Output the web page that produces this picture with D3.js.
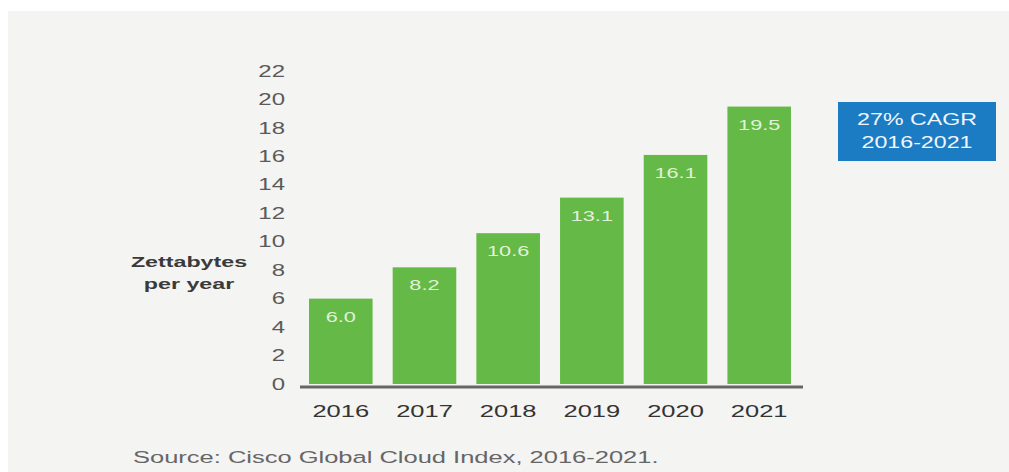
<!DOCTYPE html>
<html>
<head>
<meta charset="utf-8">
<script src="https://cdn.jsdelivr.net/npm/d3@7"></script>
<style>
  body { margin: 0; background: #fff; }
  svg { display: block; }
</style>
</head>
<body>
<div id="svganchor"></div>
<script>
let width = 1009;
let height = 472;

// chart data
let years = ["2016", "2017", "2018", "2019", "2020", "2021"];
let zettabytes = [6.0, 8.2, 10.6, 13.1, 16.1, 19.5];
let yTicks = [0, 2, 4, 6, 8, 10, 12, 14, 16, 18, 20, 22];
let axisLabel = ["Zettabytes", "per year"];
let badgeLines = ["27% CAGR", "2016-2021"];
let sourceNote = "Source: Cisco Global Cloud Index, 2016-2021.";

// the original type is set wide, so every label gets stretched sideways
let stretch = 1.5;
let font = "'Liberation Sans', Arial, sans-serif";

let svg = d3.select("#svganchor").append("svg").attr("width", width).attr("height", height);

// put a text at (x, y) and widen it around its anchor
function wideText(parent, x, y, sx) {
  return parent.append("text")
    .attr("transform", "translate(" + x + "," + y + ") scale(" + (sx || stretch) + ",1)")
    .attr("font-family", font);
}

// light gray panel
svg.append("rect")
  .attr("x", 8).attr("y", 11)
  .attr("width", width - 8).attr("height", height - 11)
  .attr("fill", "#f4f4f2");

let xScale = d3.scaleBand()
  .domain(years)
  .range([309, 791])
  .paddingInner(0.24)
  .paddingOuter(0);

let yScale = d3.scaleLinear().domain([0, 22]).range([384, 71]);

// y tick labels (no axis line)
let yAxis = d3.axisLeft(yScale).tickValues(yTicks).tickSize(0).tickPadding(0);
let gy = svg.append("g")
  .attr("transform", "translate(285,0)")
  .call(yAxis);
gy.select(".domain").remove();
gy.selectAll("text")
  .attr("transform", "scale(" + stretch + ",1)")
  .attr("font-family", font)
  .attr("font-size", 16)
  .attr("fill", "#5a5a5a");

// bars
svg.selectAll(".bar")
  .data(zettabytes)
  .enter()
  .append("rect")
  .attr("class", "bar")
  .attr("x", function (d, i) { return xScale(years[i]); })
  .attr("y", function (d) { return yScale(d); })
  .attr("width", xScale.bandwidth())
  .attr("height", function (d) { return yScale(0) - yScale(d); })
  .attr("fill", "#64b947");

// value labels inside bars
zettabytes.forEach(function (d, i) {
  wideText(svg, xScale(years[i]) + xScale.bandwidth() / 2, yScale(d) + 23)
    .attr("text-anchor", "middle")
    .attr("font-size", 14.5)
    .attr("fill", "#e2f0da")
    .text(d.toFixed(1));
});

// baseline
svg.append("line")
  .attr("x1", 300).attr("x2", 803)
  .attr("y1", yScale(0) + 3).attr("y2", yScale(0) + 3)
  .attr("stroke", "#666")
  .attr("stroke-width", 3);

// x labels
let xAxis = d3.axisBottom(xScale).tickSize(0).tickPadding(0);
let gx = svg.append("g")
  .attr("transform", "translate(0,417)")
  .call(xAxis);
gx.select(".domain").remove();
gx.selectAll("text")
  .attr("dy", 0)
  .attr("transform", "scale(" + stretch + ",1)")
  .attr("font-family", font)
  .attr("font-size", 17)
  .attr("fill", "#333");

// axis title
axisLabel.forEach(function (t, i) {
  wideText(svg, 189, 267 + i * 22, 1.55)
    .attr("text-anchor", "middle")
    .attr("font-size", 15)
    .attr("font-weight", "bold")
    .attr("fill", "#3a3a3a")
    .text(t);
});

// CAGR badge
svg.append("rect")
  .attr("x", 838).attr("y", 102)
  .attr("width", 158).attr("height", 59)
  .attr("fill", "#1b7cc3");
badgeLines.forEach(function (t, i) {
  wideText(svg, 917, 125 + i * 23, 1.45)
    .attr("text-anchor", "middle")
    .attr("font-size", 16)
    .attr("fill", "#f2f6fb")
    .text(t);
});

// source note
wideText(svg, 133, 463)
  .attr("font-size", 17)
  .attr("fill", "#666")
  .text(sourceNote);
</script>
</body>
</html>
